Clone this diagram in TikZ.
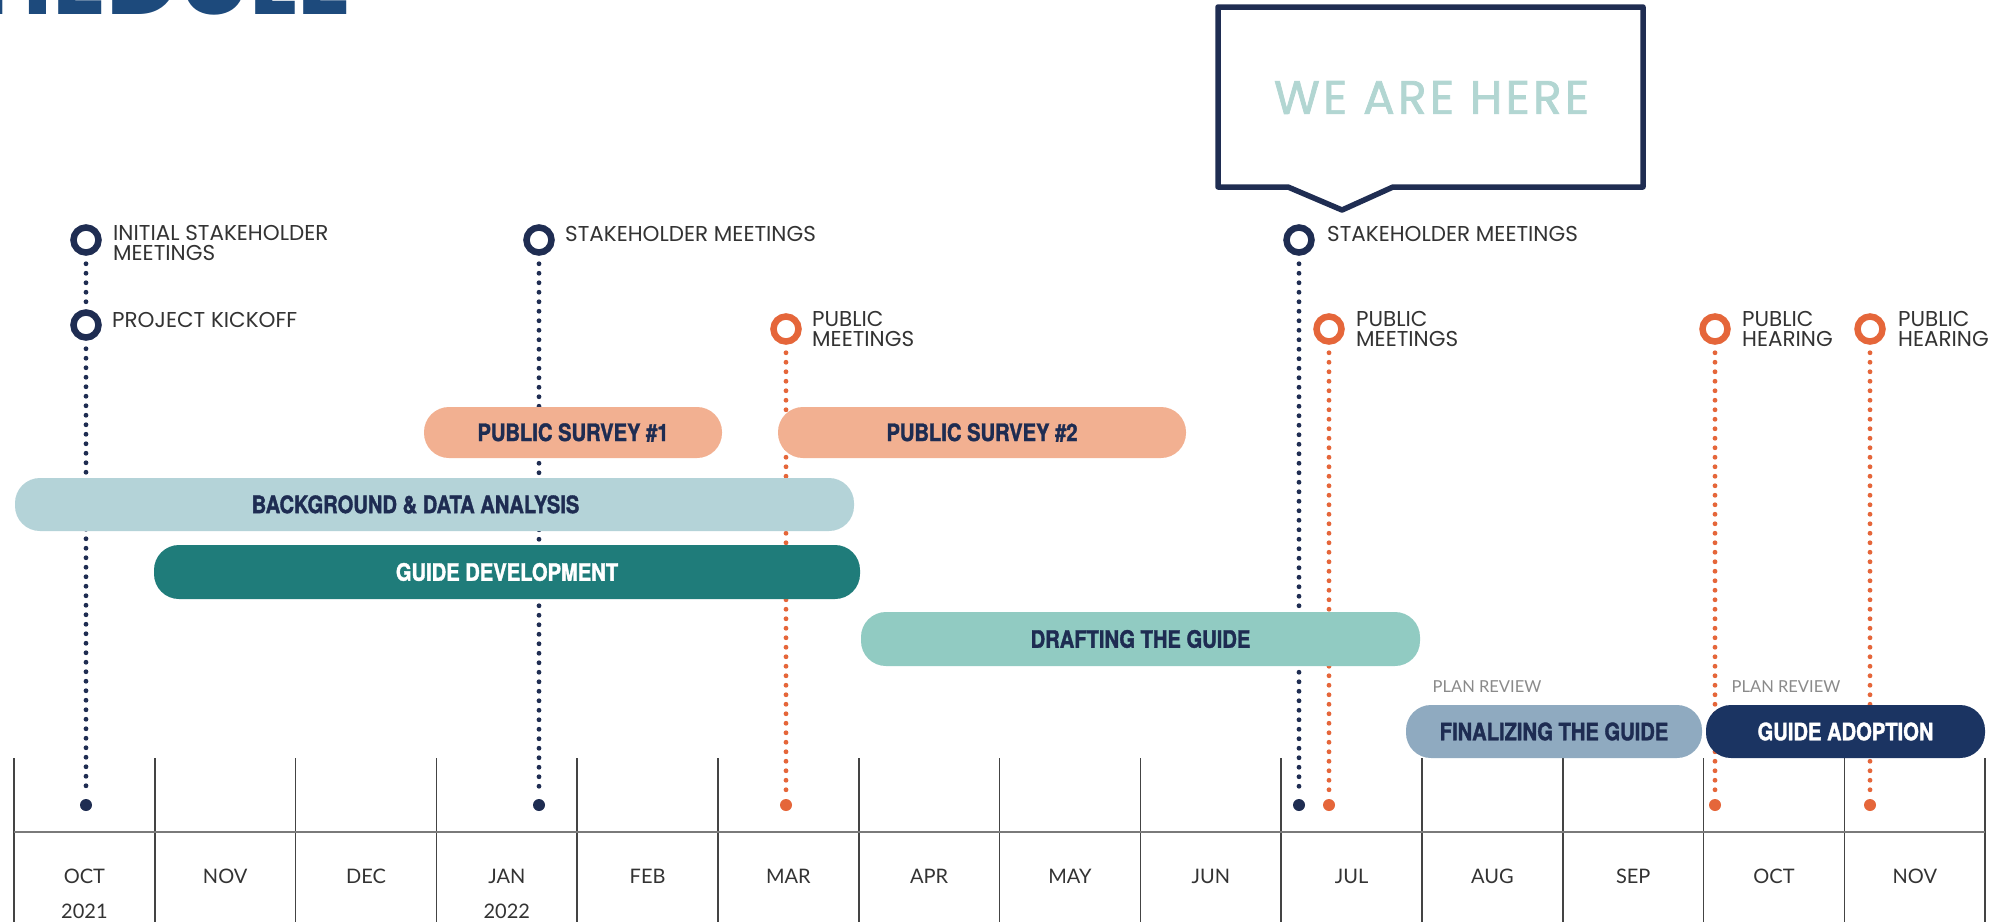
\documentclass[tikz,border=0pt]{standalone}
\usepackage{fontspec}
\setmainfont{Poppins}
\newfontfamily\lblfont{Poppins}
\newfontfamily\wefont[LetterSpace=7,FakeBold=1.5]{Poppins}
\newfontfamily\titlefont{Poppins}
\newfontfamily\barfont[FakeStretch=0.84,FakeBold=1.5]{TeX Gyre Heros}
\newfontfamily\monthfont{Lato}
\definecolor{navy}{HTML}{1F2D52}
\definecolor{orng}{HTML}{E5663A}
\definecolor{salmon}{HTML}{F2B091}
\definecolor{bgblue}{HTML}{B4D3D8}
\definecolor{gdteal}{HTML}{1F7C7A}
\definecolor{draftc}{HTML}{91CBC2}
\definecolor{finlc}{HTML}{8FAAC0}
\definecolor{adoptc}{HTML}{1B3462}
\definecolor{bartext}{HTML}{1E2C52}
\definecolor{weare}{HTML}{B2D6D2}
\definecolor{lbltext}{HTML}{333333}
\definecolor{gridv}{HTML}{444444}
\definecolor{gridh}{HTML}{7A7A7A}
\definecolor{titleblue}{HTML}{1D4A7C}
\definecolor{reviewc}{HTML}{8A8A8A}
\tikzset{
  bar/.style={rectangle, rounded corners=25pt, inner sep=0pt,
    font=\barfont\bfseries\fontsize{24}{24}\selectfont, text=bartext},
  ring/.style={circle, draw=#1, line width=6.5pt, fill=white, minimum size=25pt, inner sep=0pt},
  enddot/.style={circle, fill=#1, minimum size=12pt, inner sep=0pt},
  dotline/.style={draw=#1, line width=4.8pt, line cap=round, dash pattern=on 0pt off 9.5pt,
    shorten <=8pt, shorten >=4pt},
  lbl/.style={anchor=base west, inner sep=0pt, align=left, text=lbltext,
    font=\lblfont\fontsize{21.5}{20}\selectfont},
  month/.style={inner sep=0pt, text=lbltext, font=\monthfont\fontsize{20}{20}\selectfont},
  review/.style={inner sep=0pt, text=reviewc, font=\monthfont\fontsize{16.5}{16.5}\selectfont},
  vline/.style={draw=gridv, line width=1.5pt},
  hline/.style={draw=gridh, line width=2pt}
}
\begin{document}
\begin{tikzpicture}[x=1pt, y=-1pt]
\useasboundingbox[fill=white] (0,0) rectangle (1997,922);

% title fragment
\begin{scope}
\clip (0,0) rectangle (1997,922);
\node[anchor=base east, inner sep=0pt, text=titleblue,
  font=\titlefont\bfseries\fontsize{100}{100}\selectfont] (title) at (352,14) {SCHEDULE};
\end{scope}

% grid
\foreach \i in {0,...,14} {
  \draw[vline] ({14+140.8*\i},758) -- ({14+140.8*\i},922);
}
\draw[hline] (14,832) -- (1985,832);

% months
\foreach \m [count=\i from 0] in {OCT,NOV,DEC,JAN,FEB,MAR,APR,MAY,JUN,JUL,AUG,SEP,OCT,NOV} {
  \node[month] (mo\i) at ({84.4+140.8*\i},876) {\m};
}
\node[month] (y1) at (84.4,911) {2021};
\node[month] (y2) at (506.8,911) {2022};

% milestones
\node[ring=navy] (r1) at (86,240) {};
\node[ring=navy] (r2) at (86,325) {};
\node[enddot=navy] (d1) at (86,805) {};
\draw[dotline=navy] (r1.south) -- (r2.north);
\draw[dotline=navy] (r2.south) -- (d1.north);

\node[ring=navy] (r3) at (539,240) {};
\node[enddot=navy] (d3) at (539,805) {};
\draw[dotline=navy] (r3.south) -- (d3.north);

\node[ring=orng] (r4) at (786,329) {};
\node[enddot=orng] (d4) at (786,805) {};
\draw[dotline=orng] (r4.south) -- (d4.north);

\node[ring=navy] (r5) at (1299,240) {};
\node[enddot=navy] (d5) at (1299,805) {};
\draw[dotline=navy] (r5.south) -- (d5.north);

\node[ring=orng] (r6) at (1329,329) {};
\node[enddot=orng] (d6) at (1329,805) {};
\draw[dotline=orng] (r6.south) -- (d6.north);

\node[ring=orng] (r7) at (1715,329) {};
\node[enddot=orng] (d7) at (1715,805) {};
\draw[dotline=orng] (r7.south) -- (d7.north);

\node[ring=orng] (r8) at (1870,329) {};
\node[enddot=orng] (d8) at (1870,805) {};
\draw[dotline=orng] (r8.south) -- (d8.north);

% milestone labels (two-line nodes: base is the last line)
\node[lbl] (t1) at (113,260) {INITIAL STAKEHOLDER\\MEETINGS};
\node[lbl] (t2) at (112,327) {PROJECT KICKOFF};
\node[lbl] (t3) at (565,241) {STAKEHOLDER MEETINGS};
\node[lbl] (t4) at (812,346) {PUBLIC\\MEETINGS};
\node[lbl] (t5) at (1327,241) {STAKEHOLDER MEETINGS};
\node[lbl] (t6) at (1356,346) {PUBLIC\\MEETINGS};
\node[lbl] (t7) at (1742,346) {PUBLIC\\HEARING};
\node[lbl] (t8) at (1898,346) {PUBLIC\\HEARING};

% bars
\node[bar, fill=salmon, minimum width=298pt, minimum height=51pt] (ps1) at (573,432.5) {PUBLIC SURVEY \#1};
\node[bar, fill=salmon, minimum width=408pt, minimum height=51pt] (ps2) at (982,432.5) {PUBLIC SURVEY \#2};
\node[bar, fill=bgblue, minimum width=839pt, minimum height=53pt] (bg) at (434.5,504.5) {BACKGROUND \& DATA ANALYSIS\hspace*{38pt}};
\node[bar, fill=gdteal, text=white, minimum width=706pt, minimum height=54pt] (gd) at (507,572) {GUIDE DEVELOPMENT};
\node[bar, fill=draftc, minimum width=559pt, minimum height=54pt] (dr) at (1140.5,639) {DRAFTING THE GUIDE};
\node[bar, fill=finlc, minimum width=296pt, minimum height=53pt] (fin) at (1554,731.5) {FINALIZING THE GUIDE};
\node[bar, fill=adoptc, text=white, minimum width=279pt, minimum height=53pt] (ad) at (1845.5,731.5) {GUIDE ADOPTION};

\node[review] (pr1) at (1487,687) {PLAN REVIEW};
\node[review] (pr2) at (1786,687) {PLAN REVIEW};

% callout
\draw[navy, line width=5.5pt, line join=round] (1218,7) -- (1643,7) -- (1643,187) -- (1393,187)
  -- (1342,210) -- (1288,187) -- (1218,187) -- cycle;
\node[inner sep=0pt, text=weare, font=\wefont\fontsize{47}{47}\selectfont] (here) at (1431.5,97.5) {WE ARE HERE};
\end{tikzpicture}
\end{document}
